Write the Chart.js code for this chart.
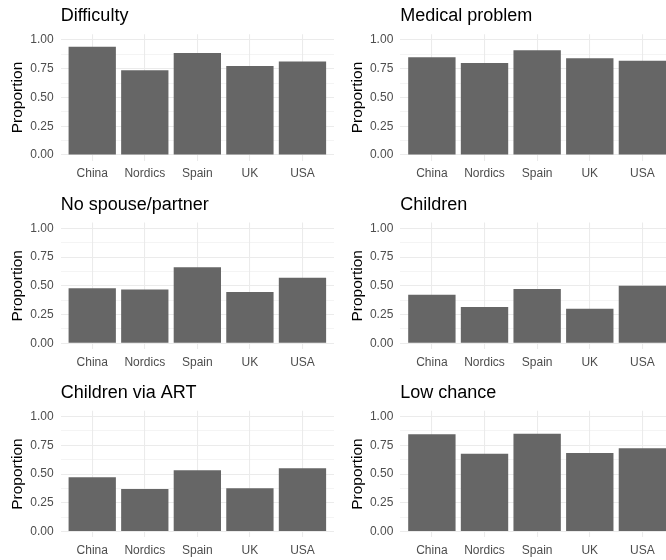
<!DOCTYPE html>
<html>
<head>
<meta charset="utf-8">
<script src="https://cdn.jsdelivr.net/npm/chart.js@4.4.1/dist/chart.umd.min.js"></script>
<style>
html, body { margin: 0; padding: 0; background: #ffffff; }
body { width: 666px; height: 560px; overflow: hidden; position: relative; }
canvas { position: absolute; display: block; }
</style>
</head>
<body>
<script>
// ---------------- data ----------------
const categories = ['China', 'Nordics', 'Spain', 'UK', 'USA'];
const panelTitles = ['Difficulty', 'Medical problem', 'No spouse/partner', 'Children', 'Children via ART', 'Low chance'];
const difficulty     = [0.942, 0.736, 0.887, 0.774, 0.814];
const medicalProblem = [0.849, 0.800, 0.910, 0.841, 0.820];
const noSpouse       = [0.478, 0.467, 0.661, 0.446, 0.571];
const children       = [0.423, 0.316, 0.472, 0.301, 0.501];
const childrenART    = [0.472, 0.371, 0.533, 0.377, 0.551];
const lowChance      = [0.846, 0.678, 0.852, 0.684, 0.725];
const yTicks = [0, 0.25, 0.5, 0.75, 1];
const yTickLabels = ['0.00', '0.25', '0.50', '0.75', '1.00'];
const yAxisTitle = 'Proportion';

const panelValues = [difficulty, medicalProblem, noSpouse, children, childrenART, lowChance];

// ---------------- layout / style ----------------
const FONT = '"Liberation Sans", Arial, sans-serif';
const colLeft = [0, 340];
const colAxisW = [60.7, 60.3];
const canvasW = 334;
const canvasH = 188;
const rowTop = [0, 188.3, 376.6];
const panelBottomRel = 160.75;
const barColor = '#666666';
const gridColor = '#EBEBEB';

// minor gridline positions halfway between major ticks
const minorTicks = [];
for (let i = 0; i < yTicks.length - 1; i++) minorTicks.push((yTicks[i] + yTicks[i + 1]) / 2);
const allYTicks = yTicks.concat(minorTicks).sort((a, b) => a - b);
const isMajor = v => yTicks.some(t => Math.abs(t - v) < 1e-9);
const majorLabel = v => {
  const i = yTicks.findIndex(t => Math.abs(t - v) < 1e-9);
  return i >= 0 ? yTickLabels[i] : '';
};

panelValues.forEach((vals, p) => {
  const col = p % 2;
  const row = Math.floor(p / 2);
  const top = Math.floor(rowTop[row]);
  const frac = rowTop[row] - top;
  const cv = document.createElement('canvas');
  cv.width = canvasW; cv.height = canvasH;
  cv.style.width = canvasW + 'px'; cv.style.height = canvasH + 'px';
  cv.style.left = colLeft[col] + 'px';
  cv.style.top = top + 'px';
  document.body.appendChild(cv);

  const xAxisH = canvasH - frac - panelBottomRel;
  const yAxisW = colAxisW[col];

  new Chart(cv, {
    type: 'bar',
    data: {
      datasets: [{
        data: categories.map((c, i) => ({ x: i, y: vals[i] })),
        backgroundColor: barColor,
        borderWidth: 0,
        categoryPercentage: 0.9,
        barPercentage: 1.0
      }]
    },
    options: {
      responsive: false,
      animation: false,
      devicePixelRatio: 1,
      layout: { padding: { top: frac, left: 0, right: 0, bottom: 0 } },
      plugins: {
        legend: { display: false },
        tooltip: { enabled: false },
        title: {
          display: true,
          text: panelTitles[p],
          align: 'start',
          fullSize: false,
          color: '#000000',
          font: { family: FONT, size: 18, weight: 'normal', lineHeight: 1.2 },
          padding: { top: 5.66, bottom: 7 }
        }
      },
      scales: {
        x: {
          type: 'linear',
          min: -0.6,
          max: 4.6,
          bounds: 'data',
          offset: false,
          afterBuildTicks: s => { s.ticks = categories.map((c, i) => ({ value: i })); },
          afterFit: s => { s.height = xAxisH; },
          grid: { color: gridColor, lineWidth: 1.07, drawTicks: false, offset: false },
          border: { display: false },
          ticks: {
            autoSkip: false,
            maxRotation: 0,
            minRotation: 0,
            padding: 6.2,
            color: '#4D4D4D',
            font: { family: FONT, size: 12, lineHeight: 1.2 },
            callback: v => categories[v]
          }
        },
        y: {
          type: 'linear',
          min: -0.05,
          max: 1.05,
          bounds: 'data',
          afterBuildTicks: s => { s.ticks = allYTicks.map(v => ({ value: v })); },
          afterFit: s => { s.width = yAxisW; },
          grid: {
            color: gridColor,
            lineWidth: ctx => (ctx.tick && isMajor(ctx.tick.value)) ? 1.07 : 0.53,
            drawTicks: false
          },
          border: { display: false },
          ticks: {
            autoSkip: false,
            padding: 7,
            color: '#4D4D4D',
            font: { family: FONT, size: 12, lineHeight: 1.2 },
            callback: v => majorLabel(v)
          },
          title: {
            display: true,
            text: yAxisTitle,
            color: '#000000',
            font: { family: FONT, size: 15.5, lineHeight: 1.2 },
            padding: { top: 8.3, bottom: 0 }
          }
        }
      }
    }
  });
});
</script>
</body>
</html>
